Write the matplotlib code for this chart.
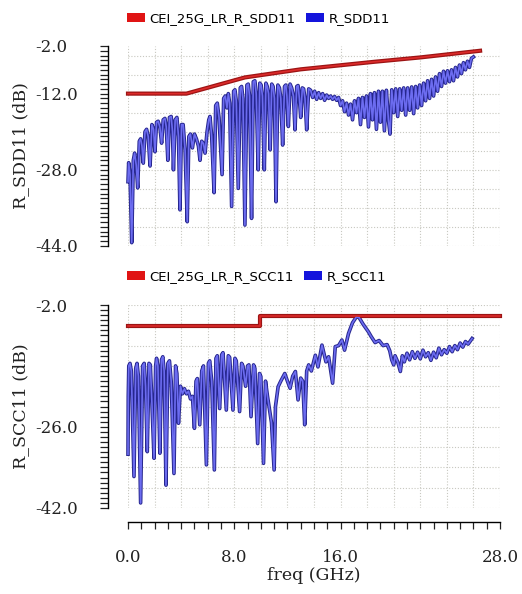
import matplotlib
matplotlib.use('Agg')
import matplotlib.pyplot as plt
from matplotlib.patches import Patch
from matplotlib.ticker import FixedLocator, MultipleLocator

# ---------------- data ----------------
sdd11_freq = [0.00, 0.05, 0.15, 0.28, 0.40, 0.50, 0.62, 0.73, 0.85, 0.95, 1.05, 1.15, 1.28, 1.40, 1.52, 1.66,
              1.80, 1.92, 2.03, 2.15, 2.27, 2.40, 2.53, 2.65, 2.78, 2.88, 3.00, 3.12, 3.25, 3.35, 3.42, 3.55,
              3.68, 3.80, 3.91, 4.03, 4.15, 4.30, 4.46, 4.58, 4.70, 4.85, 5.00, 5.15, 5.30, 5.42, 5.55, 5.68,
              5.80, 5.95, 6.08, 6.17, 6.30, 6.48, 6.60, 6.72, 6.85, 7.08, 7.20, 7.32, 7.45, 7.55, 7.65, 7.80,
              7.95, 8.05, 8.15, 8.30, 8.45, 8.55, 8.65, 8.80, 8.95, 9.05, 9.15, 9.30, 9.43, 9.55, 9.65, 9.80,
              9.92, 10.02, 10.12, 10.26, 10.38, 10.48, 10.58, 10.70, 10.82, 10.92, 11.02, 11.14, 11.28, 11.40,
              11.50, 11.64, 11.78, 11.88, 11.96, 12.07, 12.20, 12.32, 12.45, 12.57, 12.70, 12.80, 12.90, 13.00,
              13.12, 13.22, 13.32, 13.45, 13.60, 13.75, 13.90, 14.05, 14.20, 14.35, 14.50, 14.65, 14.80, 14.95,
              15.10, 15.25, 15.40, 15.55, 15.70, 15.85, 16.00, 16.15, 16.30, 16.45, 16.60, 16.75, 16.90, 17.05,
              17.20, 17.35, 17.50, 17.65, 17.80, 17.95, 18.10, 18.25, 18.40, 18.55, 18.70, 18.85, 19.00, 19.15,
              19.30, 19.45, 19.60, 19.72, 19.85, 20.00, 20.15, 20.30, 20.45, 20.60, 20.75, 20.90, 21.05, 21.20,
              21.35, 21.50, 21.65, 21.80, 21.95, 22.10, 22.25, 22.40, 22.55, 22.70, 22.85, 23.00, 23.15, 23.30,
              23.45, 23.60, 23.75, 23.90, 24.05, 24.20, 24.35, 24.50, 24.65, 24.80, 24.95, 25.10, 25.25, 25.40,
              25.55, 25.70, 25.85, 26.00]
sdd11_db = [-30.5, -26.5, -29.0, -43.3, -26.0, -24.5, -27.0, -31.8, -22.0, -21.5, -23.0, -26.6, -20.0, -19.5, -21.0, -27.2,
            -18.5, -19.5, -24.2, -18.0, -17.8, -19.0, -22.4, -17.5, -17.2, -19.0, -26.0, -17.0, -16.8, -20.0, -28.0, -17.5,
            -17.0, -21.0, -36.4, -18.5, -18.5, -24.0, -38.9, -21.0, -20.5, -23.4, -20.5, -21.5, -23.0, -26.0, -22.0, -22.5,
            -24.5, -20.0, -17.5, -16.8, -21.0, -32.8, -14.5, -14.0, -17.0, -29.0, -13.0, -12.5, -15.0, -12.0, -14.0, -35.7,
            -11.5, -11.2, -13.5, -31.9, -10.8, -10.5, -13.0, -39.6, -10.2, -10.0, -12.5, -38.2, -9.5, -9.3, -12.0, -28.0,
            -9.8, -10.2, -12.5, -28.0, -9.8, -10.5, -12.0, -23.8, -10.0, -10.5, -13.0, -34.7, -10.2, -10.8,
            -13.0, -22.8, -10.5, -10.2, -12.5, -18.9, -10.0, -10.8, -12.5, -19.6, -10.5, -10.3, -13.0, -17.0,
            -10.8, -11.0, -13.0, -19.6, -11.0, -11.3, -12.8, -11.5, -13.2, -11.8, -13.0, -12.0, -13.4, -12.3,
            -13.0, -12.5, -13.2, -12.6, -13.4, -12.8, -14.5, -13.5, -15.8, -14.0, -16.5, -14.2, -17.5, -13.5,
            -16.0, -13.0, -18.5, -12.8, -17.0, -12.5, -19.0, -12.0, -17.5, -11.8, -19.5, -11.5, -18.0, -11.5,
            -19.8, -11.3, -17.5, -20.5, -11.2, -16.0, -11.0, -16.8, -11.0, -15.5, -10.8, -16.5, -10.8, -15.5,
            -10.6, -16.2, -10.5, -15.0, -10.2, -14.5, -9.8, -13.5, -9.3, -13.0, -9.0, -12.5, -8.5, -11.5,
            -7.8, -10.5, -7.3, -9.8, -7.2, -9.5, -7.0, -9.3, -6.5, -8.5, -6.0, -7.8, -5.5, -7.0,
            -5.2, -6.5, -4.6, -4.3]

sdd11_limit_freq = [0.0, 4.4, 8.8, 13.0, 18.6, 22.0, 26.5]
sdd11_limit_db = [-12.0, -12.0, -8.6, -6.9, -5.3, -4.4, -3.0]

scc11_freq = [0.00, 0.02, 0.06, 0.15, 0.25, 0.45, 0.58, 0.68, 0.78, 0.95, 1.10, 1.22, 1.32, 1.45, 1.58, 1.68,
              1.78, 1.96, 2.08, 2.15, 2.25, 2.40, 2.52, 2.62, 2.72, 2.86, 3.00, 3.12, 3.25, 3.46, 3.58, 3.68,
              3.80, 3.95, 4.10, 4.25, 4.40, 4.55, 4.70, 4.85, 5.00, 5.12, 5.22, 5.40, 5.55, 5.68, 5.90, 6.05,
              6.15, 6.30, 6.50, 6.62, 6.72, 6.90, 7.05, 7.15, 7.40, 7.55, 7.65, 7.90, 8.05, 8.15, 8.40, 8.55,
              8.65, 8.85, 9.00, 9.10, 9.26, 9.45, 9.55, 9.76, 9.90, 10.00, 10.20, 10.35, 10.50, 10.70, 10.80,
              11.00, 11.10, 11.30, 11.50, 11.80, 12.00, 12.20, 12.40, 12.60, 12.80, 13.00, 13.15, 13.30, 13.45,
              13.60, 13.80, 14.10, 14.30, 14.60, 14.90, 15.10, 15.40, 15.60, 15.85, 16.10, 16.30, 16.60, 16.90,
              17.20, 17.40, 17.70, 18.10, 18.30, 18.60, 18.90, 19.20, 19.50, 19.70, 19.85, 20.00, 20.10, 20.30,
              20.50, 20.65, 20.80, 21.00, 21.20, 21.40, 21.60, 21.80, 22.00, 22.20, 22.40, 22.60, 22.80, 23.00,
              23.20, 23.40, 23.60, 23.80, 24.00, 24.20, 24.40, 24.60, 24.80, 25.00, 25.20, 25.40, 25.60, 25.90]
scc11_db = [-31.4, -20.0, -14.0, -13.5, -15.0, -35.8, -14.5, -13.5, -16.0, -41.0, -14.0, -13.5, -18.0, -30.9, -13.5, -13.8,
            -20.0, -32.2, -14.0, -12.5, -14.0, -31.2, -12.8, -12.2, -15.0, -37.5, -13.5, -13.0, -17.0, -35.2, -14.0, -15.5,
            -25.3, -18.0, -19.5, -18.5, -19.5, -19.0, -20.5, -20.0, -26.3, -17.0, -16.5, -25.6, -15.0, -14.0, -33.5, -13.5,
            -13.0, -17.0, -34.5, -12.5, -12.0, -22.4, -11.8, -11.4, -22.7, -12.0, -12.3, -22.7, -12.5, -13.0, -23.0, -13.5,
            -14.0, -18.0, -14.0, -13.8, -24.0, -13.8, -14.5, -29.3, -15.5, -16.1, -33.2, -17.0, -20.0, -23.5, -25.2,
            -34.5, -22.0, -18.1, -17.0, -15.5, -17.0, -18.4, -16.0, -15.1, -20.7, -16.4, -17.0, -25.6, -15.0,
            -13.8, -15.0, -11.9, -14.2, -9.9, -13.2, -12.2, -17.4, -10.2, -10.0, -8.9, -10.9, -7.6, -5.5,
            -4.3, -4.5, -5.8, -7.3, -8.2, -9.4, -9.0, -10.0, -9.8, -11.0, -12.8, -13.8, -12.0, -13.2,
            -15.1, -12.0, -13.2, -11.5, -12.8, -11.2, -12.5, -11.3, -12.6, -10.9, -12.2, -11.4, -12.9, -11.3,
            -12.4, -10.5, -11.8, -10.8, -11.5, -10.2, -11.2, -10.0, -10.8, -9.5, -10.3, -9.2, -9.7, -8.6]

scc11_limit_freq = [0.0, 9.93, 9.93, 28.0]
scc11_limit_db = [-6.2, -6.2, -4.2, -4.2]

sdd11_ticks = [-2.0, -12.0, -28.0, -44.0]
scc11_ticks = [-2.0, -26.0, -42.0]
freq_ticks = [0.0, 8.0, 16.0, 28.0]

# ---------------- figure ----------------
W, H = 522, 594
fig = plt.figure(figsize=(W / 100, H / 100), dpi=100)
fig.patch.set_facecolor('white')

ax1 = fig.add_axes([128 / W, 1 - 246 / H, 372 / W, 200 / H])
ax2 = fig.add_axes([128 / W, 1 - 508 / H, 372 / W, 203 / H])

SERIF = 'DejaVu Serif'
RED_DARK, RED_LIGHT = '#9c1414', '#dc2a2a'
BLUE_DARK, BLUE_LIGHT = '#26268e', '#6c6cf0'
GRID_C = '#c8c8c0'


def setup(ax, ylo, yhi, ticks, grid_y, ylabel, show_x):
    ax.set_xlim(0, 28)
    ax.set_ylim(ylo, yhi)
    ax.set_facecolor('white')
    # grid
    ax.vlines(range(0, 29, 2), ylo, yhi, colors=GRID_C, linestyles=(0, (1, 1.6)), linewidth=0.8, zorder=0)
    ax.hlines(grid_y, 0, 28, colors=GRID_C, linestyles=(0, (1, 1.6)), linewidth=0.8, zorder=0)
    for s in ['top', 'right']:
        ax.spines[s].set_visible(False)
    ax.spines['left'].set_position(('outward', 14.4))
    ax.spines['left'].set_bounds(ylo, yhi)
    ax.spines['left'].set_linewidth(1.0)
    ax.yaxis.set_major_locator(FixedLocator(ticks))
    ax.yaxis.set_minor_locator(MultipleLocator(1))
    ax.yaxis.set_major_formatter(matplotlib.ticker.FormatStrFormatter('%.1f'))
    ax.tick_params(axis='y', which='both', direction='out', length=5.8, width=0.9, color='#222222')
    ax.tick_params(axis='y', which='major', pad=46.8, labelsize=12, labelcolor='#222222')
    for t in ax.get_yticklabels():
        t.set_ha('left')
        t.set_family(SERIF)
    ax.set_ylabel(ylabel, family=SERIF, fontsize=12.5, color='#222222', va='center')
    ax.yaxis.set_label_coords(-0.29, 0.5)
    if show_x:
        ax.spines['bottom'].set_position(('outward', 10.1))
        ax.spines['bottom'].set_bounds(0, 28)
        ax.spines['bottom'].set_linewidth(1.0)
        ax.xaxis.set_major_locator(FixedLocator(freq_ticks))
        ax.xaxis.set_minor_locator(MultipleLocator(1))
        ax.xaxis.set_major_formatter(matplotlib.ticker.FormatStrFormatter('%.1f'))
        ax.tick_params(axis='x', which='both', direction='out', length=5.2, width=0.9, color='#222222')
        ax.tick_params(axis='x', which='major', pad=14, labelsize=12, labelcolor='#222222')
        for t in ax.get_xticklabels():
            t.set_family(SERIF)
        ax.set_xlabel('freq (GHz)', family=SERIF, fontsize=12.5, color='#222222', labelpad=1)
    else:
        ax.spines['bottom'].set_visible(False)
        ax.tick_params(axis='x', which='both', bottom=False, labelbottom=False)


def trace(ax, f, v, dark, light, lw_dark, lw_light):
    ax.plot(f, v, color=dark, lw=lw_dark, solid_joinstyle='round', zorder=3, clip_on=False)
    ax.plot(f, v, color=light, lw=lw_light, solid_joinstyle='round', zorder=4, clip_on=False)


def legend(ax, name_limit, name_trace, y_anchor):
    handles = [Patch(facecolor='#e01414', edgecolor='none', label=name_limit),
               Patch(facecolor='#1414dc', edgecolor='none', label=name_trace)]
    ax.legend(handles=handles, ncol=2, loc='lower left', bbox_to_anchor=(-0.003, y_anchor),
              frameon=False, handlelength=1.36, handleheight=0.76, handletextpad=0.37,
              columnspacing=0.75, borderpad=0, borderaxespad=0,
              prop={'family': 'DejaVu Sans', 'size': 9.5})


setup(ax1, -44, -2, sdd11_ticks, list(range(-4, -45, -4)), 'R_SDD11 (dB)', False)
setup(ax2, -42, -2, scc11_ticks, list(range(-2, -43, -4)), 'R_SCC11 (dB)', True)

trace(ax1, sdd11_freq, sdd11_db, BLUE_DARK, BLUE_LIGHT, 2.6, 1.2)
trace(ax1, sdd11_limit_freq, sdd11_limit_db, RED_DARK, RED_LIGHT, 3.0, 1.2)
trace(ax2, scc11_freq, scc11_db, BLUE_DARK, BLUE_LIGHT, 2.6, 1.2)
trace(ax2, scc11_limit_freq, scc11_limit_db, RED_DARK, RED_LIGHT, 3.0, 1.2)

legend(ax1, 'CEI_25G_LR_R_SDD11', 'R_SDD11', 1.105)
legend(ax2, 'CEI_25G_LR_R_SCC11', 'R_SCC11', 1.108)

fig.savefig('out.png', dpi=100, facecolor='white')
